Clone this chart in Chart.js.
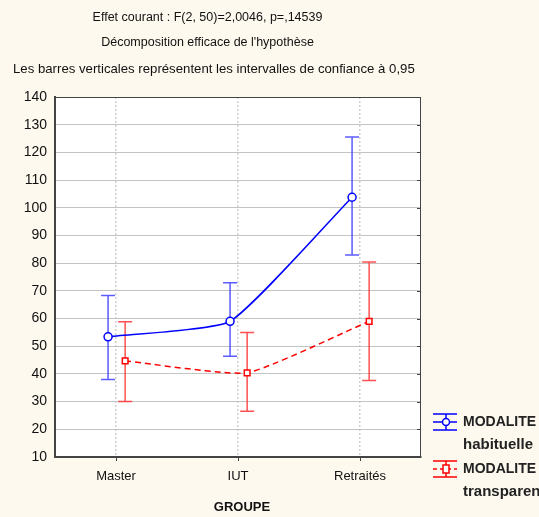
<!DOCTYPE html>
<html>
<head>
<meta charset="utf-8">
<script src="https://cdn.jsdelivr.net/npm/chart.js@4.4.1/dist/chart.umd.min.js"></script>
<style>
  html, body { margin: 0; padding: 0; background: #fdf9ee; }
  #wrap { width: 539px; height: 517px; }
</style>
</head>
<body>
<div id="wrap"><canvas id="chart" width="539" height="517"></canvas></div>
<script>
// categories and series values
const groups = ['Master', 'IUT', 'Retraités'];
const habMean = [53.4, 59.0, 103.8];
const habLow = [38.0, 46.4, 82.9];
const habHigh = [68.3, 72.9, 125.6];
const trMean = [44.7, 40.4, 59.0];
const trLow = [30.0, 26.5, 37.6];
const trHigh = [58.8, 55.0, 80.4];
const yTicks = [10, 20, 30, 40, 50, 60, 70, 80, 90, 100, 110, 120, 130, 140];

const titles = [
  'Effet courant : F(2, 50)=2,0046, p=,14539',
  'Décomposition efficace de l\'hypothèse',
  'Les barres verticales représentent les intervalles de confiance à 0,95'
];

const FONT = "'Liberation Sans', Arial, sans-serif";
const BLUE = '#0000ff';
const RED = '#ff0000';

// small horizontal shift so the two series do not overlap
const shiftHab = -0.065;
const shiftTr = 0.075;

function points(vals, shift) {
  return vals.map((v, i) => ({ x: i + shift, y: v }));
}

const errorBars = {
  id: 'errorBars',
  beforeDatasetsDraw(chart) {
    const ctx = chart.ctx;
    const y = chart.scales.y;
    const sets = [[habLow, habHigh, 'rgba(50,50,255,0.8)'], [trLow, trHigh, 'rgba(255,50,50,0.85)']];
    sets.forEach((s, di) => {
      const meta = chart.getDatasetMeta(di);
      meta.data.forEach((pt, i) => {
        const yl = y.getPixelForValue(s[0][i]);
        const yh = y.getPixelForValue(s[1][i]);
        ctx.save();
        ctx.strokeStyle = s[2];
        ctx.lineWidth = 1.5;
        ctx.beginPath();
        ctx.moveTo(pt.x, yl); ctx.lineTo(pt.x, yh);
        ctx.moveTo(pt.x - 7, yl); ctx.lineTo(pt.x + 7, yl);
        ctx.moveTo(pt.x - 7, yh); ctx.lineTo(pt.x + 7, yh);
        ctx.stroke();
        ctx.restore();
      });
    });
  }
};

const frame = {
  id: 'frame',
  beforeDraw(chart) {
    const ctx = chart.ctx, a = chart.chartArea;
    ctx.save();
    ctx.fillStyle = '#fdf9ee';
    ctx.fillRect(0, 0, chart.width, chart.height);
    ctx.fillStyle = '#ffffff';
    ctx.fillRect(a.left, a.top, a.right - a.left, a.bottom - a.top);
    ctx.restore();
  },
  afterDraw(chart) {
    const ctx = chart.ctx, a = chart.chartArea, y = chart.scales.y, x = chart.scales.x;
    ctx.save();
    // top and right border
    ctx.strokeStyle = '#444';
    ctx.lineWidth = 1;
    ctx.beginPath();
    ctx.moveTo(a.left, a.top + 0.5); ctx.lineTo(a.right, a.top + 0.5);
    ctx.moveTo(a.right - 0.5, a.top); ctx.lineTo(a.right - 0.5, a.bottom);
    yTicks.forEach(t => {
      const py = Math.round(y.getPixelForValue(t)) + 0.5;
      ctx.moveTo(a.right, py); ctx.lineTo(a.right - 4, py);
    });
    groups.forEach((g, i) => {
      const px = Math.round(x.getPixelForValue(i)) + 0.5;
      ctx.moveTo(px, a.bottom); ctx.lineTo(px, a.bottom + 4);
    });
    ctx.stroke();

    // titles
    ctx.fillStyle = '#111';
    ctx.textBaseline = 'middle';
    ctx.textAlign = 'center';
    ctx.font = '12.5px ' + FONT;
    ctx.fillText(titles[0], 207.5, 18);
    ctx.fillText(titles[1], 207.5, 43);
    ctx.textAlign = 'left';
    ctx.font = '13.2px ' + FONT;
    ctx.fillText(titles[2], 13, 69);

    // axis title
    ctx.font = 'bold 13px ' + FONT;
    ctx.textAlign = 'center';
    ctx.fillText('GROUPE', 242, 507);

    // legend
    const items = [
      { color: BLUE, dash: [], shape: 'circle', y: 422, lines: ['MODALITE', 'habituelle'] },
      { color: RED, dash: [4, 3], shape: 'rect', y: 469, lines: ['MODALITE', 'transparente'] }
    ];
    items.forEach(it => {
      const cx = 446;
      ctx.strokeStyle = it.color;
      ctx.lineWidth = 1.5;
      ctx.setLineDash([]);
      ctx.beginPath();
      ctx.moveTo(433, it.y - 8); ctx.lineTo(457, it.y - 8);
      ctx.moveTo(433, it.y + 8); ctx.lineTo(457, it.y + 8);
      ctx.moveTo(cx, it.y - 8); ctx.lineTo(cx, it.y + 8);
      ctx.stroke();
      ctx.setLineDash(it.dash);
      ctx.beginPath();
      ctx.moveTo(433, it.y); ctx.lineTo(457, it.y);
      ctx.stroke();
      ctx.setLineDash([]);
      ctx.fillStyle = '#fff';
      ctx.beginPath();
      if (it.shape === 'circle') ctx.arc(cx, it.y, 3.5, 0, Math.PI * 2);
      else ctx.rect(cx - 3, it.y - 4, 6, 8);
      ctx.fill();
      ctx.stroke();
      ctx.fillStyle = '#222';
      ctx.font = 'bold 14px ' + FONT;
      ctx.textAlign = 'left';
      ctx.fillText(it.lines[0], 463, it.y);
      ctx.font = 'bold 15px ' + FONT;
      ctx.fillText(it.lines[1], 463, it.y + 23);
    });
    ctx.restore();
  }
};

new Chart(document.getElementById('chart'), {
  type: 'line',
  data: {
    datasets: [{
      label: 'MODALITE habituelle',
      data: points(habMean, shiftHab),
      borderColor: BLUE,
      borderWidth: 1.5,
      pointStyle: 'circle',
      pointRadius: 4,
      pointBackgroundColor: '#fff',
      pointBorderColor: BLUE,
      pointBorderWidth: 1.5,
      tension: 0.15,
      fill: false
    }, {
      label: 'MODALITE transparente',
      data: points(trMean, shiftTr),
      borderColor: RED,
      borderWidth: 1.5,
      borderDash: [6, 4],
      pointStyle: 'rect',
      pointRadius: 4,
      pointBackgroundColor: '#fff',
      pointBorderColor: RED,
      pointBorderWidth: 1.5,
      tension: 0.15,
      fill: false
    }]
  },
  plugins: [errorBars, frame],
  options: {
    responsive: false,
    animation: false,
    layout: { padding: { top: 97, right: 118, left: 0, bottom: 0 } },
    plugins: { legend: { display: false }, tooltip: { enabled: false } },
    scales: {
      x: {
        type: 'linear',
        min: -0.5,
        max: 2.5,
        afterBuildTicks: s => { s.ticks = groups.map((g, i) => ({ value: i })); },
        afterFit: s => { s.height = 60; },
        ticks: {
          callback: v => groups[v],
          color: '#111',
          font: { family: FONT, size: 13 },
          padding: 12
        },
        grid: { color: '#d0d0d0', lineWidth: 1.5, drawTicks: false },
        border: { color: '#444', width: 2, dash: [2, 2] }
      },
      y: {
        min: 10,
        max: 140,
        afterBuildTicks: s => { s.ticks = yTicks.map(v => ({ value: v })); },
        afterFit: s => { s.width = 55; },
        ticks: {
          color: '#111',
          font: { family: FONT, size: 14 },
          padding: 8
        },
        grid: { color: '#c4c4c4', lineWidth: 1, drawTicks: true, tickLength: 0 },
        border: { color: '#444', width: 2 }
      }
    }
  }
});
</script>
</body>
</html>
